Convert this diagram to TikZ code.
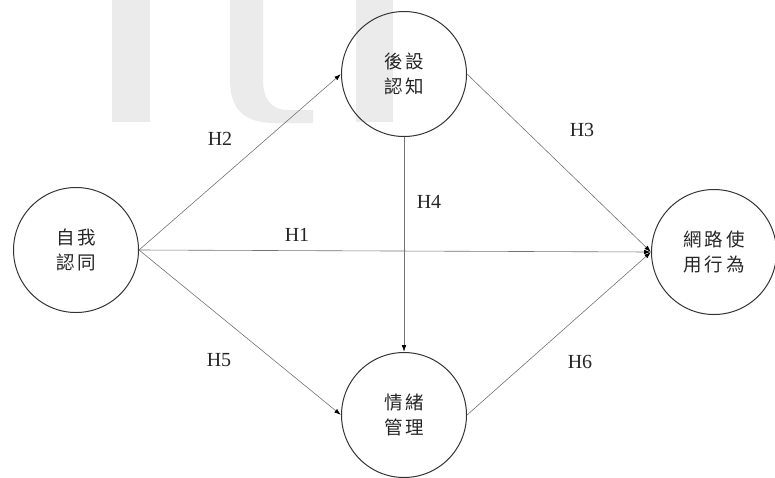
\documentclass[tikz,border=0pt]{standalone}
\usepackage{fontspec}
\setmainfont{Liberation Serif}
\newfontfamily\cjk{Noto Sans CJK TC}[LetterSpace=16]
\usetikzlibrary{arrows.meta}
\definecolor{wm}{HTML}{EBEBEB}
\definecolor{txt}{HTML}{262626}
\tikzset{
  construct/.style={circle, draw=black!80, line width=1pt, minimum size=125pt, inner sep=0pt,
    align=center, font=\cjk\fontsize{18.5pt}{25pt}\selectfont, text=txt},
  path/.style={draw=black!55, line width=0.6pt, -{Latex[length=6.5pt,width=4.5pt,color=black]}, shorten >=0.3pt},
  hyp/.style={font=\fontsize{20pt}{22pt}\selectfont, text=txt, inner sep=0pt},
  watermark/.style={fill=wm, draw=none}
}
\begin{document}
\begin{tikzpicture}[x=1pt,y=-1pt]
\useasboundingbox (0,0) rectangle (775,477);
% watermark
\fill[watermark] (112,0) rectangle (150,122);
\fill[watermark] (230,0) -- (230,80) .. controls (230,110) and (245,123) .. (275,123) -- (313,123) -- (313,110) -- (288,110) .. controls (272,110) and (263,100) .. (263,80) -- (263,0) -- cycle;
\fill[watermark] (356,0) rectangle (393,122);
% constructs
\node[construct] (self) at (76,250) {自我\\認同};
\node[construct] (meta) at (404,74) {後設\\認知};
\node[construct] (emo) at (404,415) {情緒\\管理};
\node[construct] (net) at (714,252) {網路使\\用行為};
% paths
\draw[path] (self.east) -- (net.west);
\draw[path] (self.east) -- (meta.west);
\draw[path] (self.east) -- (emo.west);
\draw[path] (meta.east) -- (net.west);
\draw[path] (emo.east) -- (net.west);
\draw[path] (meta.south) -- (emo.north);
% labels
\node[hyp] (h1) at (297,235) {H1};
\node[hyp] (h2) at (220,139) {H2};
\node[hyp] (h3) at (582,130) {H3};
\node[hyp] (h4) at (429,202) {H4};
\node[hyp] (h5) at (219,360) {H5};
\node[hyp] (h6) at (580,362) {H6};
\end{tikzpicture}
\end{document}
